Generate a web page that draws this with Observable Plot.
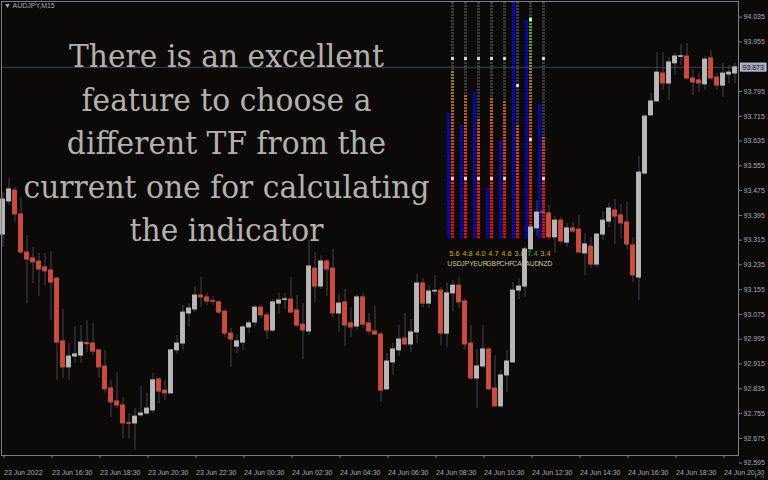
<!DOCTYPE html>
<html><head><meta charset="utf-8">
<script src="https://cdn.jsdelivr.net/npm/d3@7"></script>
<script src="https://cdn.jsdelivr.net/npm/@observablehq/plot@0.6"></script>
<style>
html,body{margin:0;padding:0;background:#0c0a08;}
#wrap{position:relative;width:768px;height:480px;overflow:hidden;background:#0c0a08;}
#wrap svg{position:absolute;left:0;top:0;}
#symbol{position:absolute;left:4px;top:2px;font:7px "Liberation Sans",Arial,sans-serif;color:#a4a8b8;white-space:nowrap;}
#caption{position:absolute;left:0;top:35px;width:453px;text-align:center;font-family:"DejaVu Serif",serif;font-size:32px;line-height:43.5px;color:#b3b1ad;transform:scaleX(0.93);transform-origin:226.5px 0;white-space:nowrap;}
</style>
</head><body><div id="wrap"></div>
<script>
// ---- data ----
const symbolLabel = "AUDJPY,M15";
const captionLines = ["There is an excellent","feature to choose a","different TF from the","current one for calculating","the indicator"];
const opens = [93.333,93.440,93.475,93.398,93.275,93.256,93.246,93.227,93.217,93.191,92.988,92.904,92.939,92.942,92.983,92.981,92.959,92.907,92.836,92.794,92.781,92.724,92.723,92.749,92.755,92.765,92.865,92.829,92.820,92.959,92.981,93.078,93.091,93.136,93.130,93.118,93.114,93.084,93.013,92.971,92.984,93.033,93.049,93.097,93.072,93.023,93.110,93.122,93.123,93.088,93.042,93.020,93.223,93.165,93.246,93.223,93.078,93.114,93.046,93.036,93.130,93.046,93.020,93.010,92.833,92.920,92.959,92.997,92.978,93.017,93.175,93.110,93.149,93.152,93.013,93.143,93.168,93.117,92.981,92.868,92.907,92.962,92.836,92.778,92.878,92.920,93.152,93.165,93.285,93.353,93.405,93.401,93.324,93.378,93.307,93.353,93.349,93.272,93.294,93.236,93.333,93.375,93.411,93.395,93.372,93.298,93.194,93.530,93.718,93.763,93.853,93.821,93.886,93.907,93.908,93.837,93.831,93.818,93.902,93.840,93.814,93.850,93.853];
const highs = [93.469,93.514,93.485,93.453,93.330,93.291,93.272,93.272,93.278,93.194,93.091,92.981,93.036,93.039,93.055,93.046,92.962,92.959,92.862,92.887,92.807,92.755,92.771,92.842,92.820,92.884,92.871,92.862,92.962,93.007,93.104,93.110,93.165,93.194,93.143,93.133,93.120,93.091,93.030,93.007,93.039,93.055,93.104,93.104,93.081,93.123,93.143,93.143,93.194,93.136,93.110,93.314,93.275,93.265,93.252,93.285,93.139,93.156,93.097,93.139,93.143,93.078,93.101,93.017,92.949,92.981,93.039,93.078,93.059,93.204,93.191,93.168,93.201,93.162,93.178,93.185,93.194,93.126,93.039,92.962,93.039,92.968,92.942,92.894,92.959,93.178,93.191,93.294,93.362,93.443,93.427,93.427,93.391,93.388,93.369,93.372,93.395,93.336,93.323,93.336,93.407,93.433,93.446,93.430,93.437,93.323,93.585,93.720,93.789,93.921,93.921,93.905,93.918,93.947,93.950,93.866,93.853,93.908,93.927,93.853,93.886,93.879,93.886];
const lows = [93.291,93.427,93.372,93.269,93.110,93.175,93.133,93.168,93.055,92.862,92.868,92.862,92.917,92.917,92.952,92.942,92.868,92.820,92.742,92.771,92.674,92.674,92.636,92.742,92.749,92.755,92.787,92.797,92.818,92.946,92.959,93.036,93.081,93.097,93.104,93.104,93.075,93.000,92.904,92.949,92.959,93.013,93.036,93.062,92.994,93.017,93.075,93.091,93.078,93.033,92.929,93.007,93.114,93.156,93.133,93.062,93.017,92.971,93.000,93.023,93.030,93.007,93.007,92.791,92.829,92.878,92.939,92.975,92.952,92.981,93.097,93.094,93.136,92.975,92.968,93.084,93.094,92.959,92.862,92.771,92.900,92.829,92.774,92.771,92.823,92.917,93.123,93.130,93.281,93.327,93.388,93.314,93.272,93.301,93.291,93.336,93.272,93.201,93.223,93.227,93.314,93.356,93.301,93.320,93.285,93.178,93.120,93.525,93.714,93.760,93.798,93.766,93.847,93.879,93.831,93.782,93.792,93.798,93.831,93.798,93.776,93.821,93.821];
const closes = [93.446,93.479,93.398,93.275,93.252,93.243,93.220,93.214,93.178,92.984,92.904,92.939,92.946,92.984,92.979,92.955,92.904,92.833,92.791,92.781,92.723,92.722,92.745,92.755,92.771,92.862,92.826,92.820,92.959,92.981,93.081,93.094,93.136,93.130,93.117,93.116,93.081,93.013,92.994,92.988,93.033,93.046,93.097,93.072,93.023,93.114,93.120,93.124,93.081,93.039,93.023,93.230,93.165,93.246,93.220,93.078,93.110,93.039,93.033,93.130,93.042,93.020,93.010,92.829,92.923,92.962,92.994,92.978,93.017,93.175,93.110,93.149,93.151,93.013,93.143,93.168,93.114,92.978,92.868,92.907,92.962,92.833,92.778,92.878,92.923,93.152,93.165,93.285,93.356,93.404,93.403,93.324,93.378,93.311,93.353,93.343,93.275,93.301,93.236,93.333,93.378,93.417,93.391,93.369,93.301,93.201,93.533,93.714,93.763,93.856,93.821,93.889,93.908,93.909,93.837,93.824,93.821,93.898,93.837,93.814,93.853,93.856,93.873];
const currentPrice = 93.873;
const yTicks = [92.595,92.675,92.755,92.835,92.915,92.995,93.075,93.155,93.235,93.315,93.395,93.475,93.555,93.635,93.715,93.795,93.955,94.035];
const xTickBars = [0,8,16,24,32,40,48,56,64,72,80,88,96,104,112,120];
const xTickLabels = ["23 Jun 2022","23 Jun 16:30","23 Jun 18:30","23 Jun 20:30","23 Jun 22:30","24 Jun 00:30","24 Jun 02:30","24 Jun 04:30","24 Jun 06:30","24 Jun 08:30","24 Jun 10:30","24 Jun 12:30","24 Jun 14:30","24 Jun 16:30","24 Jun 18:30","24 Jun 20:30"];
// indicator (currency strength)
const currencies = ["USD","JPY","EUR","GBP","CHF","CAD","AUD","NZD"];
const strength = [5.6,4.8,4.0,4.7,4.6,3.8,7.4,3.4];
const strengthAlt = [4.2,3.8,4.9,1.7,3.3,7.9,7.3,4.5];
const markHigh = [6.0,6.0,6.0,6.0,6.0,5.1,7.3,6.0];
const markLow = [2.0,2.0,2.0,2.0,2.0,null,3.3,2.0];
const strengthMax = 7.9;

// ---- styles ----
const BULL = "#b8b8b8", BEAR = "#cf4a3a", WICK = "#41444f", AXIS = "#7e7e86", LABEL = "#a4a8b8";
const FONT = '"Liberation Sans", Arial, sans-serif';
const gradStops = [[0,"#ff0000"],[1.6,"#ff1400"],[3.0,"#e54000"],[4.0,"#c85800"],[5.0,"#a87400"],[5.8,"#949000"],[6.6,"#5aa800"],[7.9,"#3cc000"]];

const wrap = document.getElementById("wrap");
const candles = opens.map((o, i) => ({i, o, h: highs[i], l: lows[i], c: closes[i]}));
const bulls = candles.filter(d => d.c >= d.o), bears = candles.filter(d => d.c < d.o);
const tickLabel = new Map(xTickBars.map((b, k) => [b, xTickLabels[k]]));

// ---- indicator layer (beneath candles) ----
const ind = Plot.plot({
  width: 768, height: 480,
  style: {background: "transparent", fontFamily: FONT, fontSize: "7.5px"},
  x: {type: "point", domain: currencies, range: [445, 550], axis: null},
  y: {domain: [0, strengthMax], range: [238, 1], axis: null},
  marks: [
    Plot.ruleX(currencies, {x: d => d, y1: 0, y2: strengthMax, stroke: "#3a3a3a", strokeWidth: 3, strokeDasharray: "2,1"}),
    Plot.ruleX(currencies, {x: d => d, y1: 0, y2: (d, i) => strengthAlt[i], stroke: "#0000ff", strokeWidth: 3, strokeDasharray: "2,1", dx: -4}),
    Plot.ruleX(currencies, {x: d => d, y1: 0, y2: (d, i) => strength[i], stroke: "url(#strengthGrad)", strokeWidth: 3, strokeDasharray: "2,1"}),
    Plot.dot(currencies.map((c, i) => ({c, v: markHigh[i]})), {x: "c", y: "v", symbol: "square", r: 1.5, fill: "#ffffff"}),
    Plot.dot(currencies.map((c, i) => ({c, v: markLow[i]})).filter(d => d.v != null), {x: "c", y: "v", symbol: "square", r: 1.5, fill: "#ffffff"}),
    Plot.text(currencies, {x: d => d, y: 0, text: (d, i) => strength[i].toFixed(1), dx: 2, dy: 15, fill: (d, i) => strength[i] >= 7 ? "#22c022" : "#c8b000", fontSize: 7.5}),
    Plot.text(currencies, {x: d => d, y: 0, text: d => d, dx: 2, dy: 25, fill: "#d2c89c", fontSize: 6.8})
  ]
});
{
  const ys = ind.scale("y");
  const defs = d3.select(ind).insert("defs", ":first-child");
  const g = defs.append("linearGradient").attr("id", "strengthGrad").attr("gradientUnits", "userSpaceOnUse")
    .attr("x1", 0).attr("x2", 0).attr("y1", ys.apply(0)).attr("y2", ys.apply(strengthMax));
  gradStops.forEach(([v, c]) => g.append("stop").attr("offset", v / strengthMax).attr("stop-color", c));
}
wrap.appendChild(ind);

// ---- price chart ----
const priceText = currentPrice.toFixed(3);
const chart = Plot.plot({
  width: 768, height: 480,
  marginLeft: 1, marginRight: 30, marginTop: 1, marginBottom: 25,
  style: {background: "transparent", fontFamily: FONT, fontSize: "7px", color: LABEL},
  x: {domain: [-0.25, 122.583], axis: null},
  y: {domain: [92.6194, 94.0857], axis: null},
  marks: [
    Plot.ruleY([currentPrice], {stroke: "#3c4052", strokeWidth: 1}),
    Plot.ruleX(candles, {x: "i", y1: "l", y2: "h", stroke: WICK}),
    Plot.rect(bulls, {x1: d => d.i - 0.41, x2: d => d.i + 0.41, y1: "o", y2: "c", fill: BULL, insetTop: -0.5, insetBottom: -0.5}),
    Plot.rect(bears, {x1: d => d.i - 0.41, x2: d => d.i + 0.41, y1: "o", y2: "c", fill: BEAR, insetTop: -0.5, insetBottom: -0.5}),
    Plot.frame({stroke: AXIS}),
    Plot.axisY(yTicks, {anchor: "right", tickSize: 3, tickPadding: 2, tickFormat: d => d.toFixed(3), stroke: AXIS, fill: LABEL, fontSize: 7}),
    Plot.axisX(xTickBars, {anchor: "bottom", tickSize: 3, tickPadding: 12, tickFormat: d => tickLabel.get(d), textAnchor: "start", dx: 1, stroke: AXIS, fill: LABEL, fontSize: 7}),
    Plot.text([currentPrice], {y: d => d, frameAnchor: "right", text: d => d.toFixed(3), textAnchor: "start", dx: 4, fill: "#24262e", fontSize: 7})
  ]
});
wrap.appendChild(chart);
// background box behind current-price label
d3.select(chart).selectAll("text").filter(function() { return this.textContent === priceText; }).each(function() {
  const b = this.getBBox();
  const tr = this.getAttribute("transform");
  const r = document.createElementNS("http://www.w3.org/2000/svg", "rect");
  r.setAttribute("x", b.x - 2); r.setAttribute("y", b.y - 0.5);
  r.setAttribute("width", b.width + 4); r.setAttribute("height", b.height + 1);
  r.setAttribute("fill", "#9ea2b4"); r.setAttribute("stroke", "#c8ccd8");
  if (tr) r.setAttribute("transform", tr);
  this.parentNode.insertBefore(r, this);
});

// ---- overlays ----
const sym = document.createElement("div");
sym.id = "symbol";
sym.textContent = "\u25BC " + symbolLabel;
wrap.appendChild(sym);
const cap = document.createElement("div");
cap.id = "caption";
cap.innerHTML = captionLines.map(s => `<div>${s}</div>`).join("");
wrap.appendChild(cap);
</script>
</body></html>
